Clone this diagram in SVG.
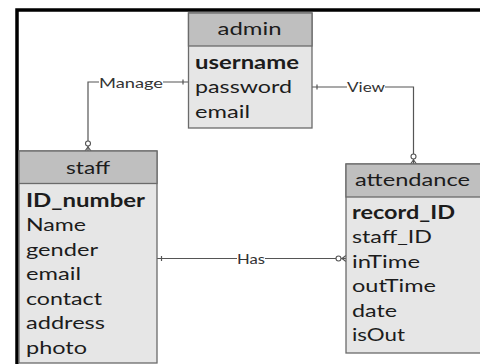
<svg xmlns="http://www.w3.org/2000/svg" width="480" height="364" viewBox="0 0 480 364">
<style>
.hdr{fill:#bfbfbf;stroke:#6b6b6b;stroke-width:1.3}
.body{fill:#e6e6e6;stroke:#6b6b6b;stroke-width:1.3}
.t{font-family:Lato,"Liberation Sans",sans-serif;font-size:18px;fill:#1c1c1c}
.h{text-anchor:middle}
.k{font-weight:bold}
.lbl{font-family:Lato,"Liberation Sans",sans-serif;font-size:13.5px;fill:#333;text-anchor:middle}
.ln{fill:none;stroke:#555;stroke-width:1.2}
.ring{fill:#fff;stroke:#555;stroke-width:1.1}
</style>
<rect width="480" height="364" fill="#fff"/>
<path d="M17,364 V10 H480" fill="none" stroke="#000" stroke-width="3.5"/>

<g id="connectors">
  <path class="ln" d="M188.5,82 H88 V151"/>
  <path class="ln" d="M183,79.5 V84.5"/>
  <rect x="99" y="75" width="64" height="15" fill="#fff"/>
  <text class="lbl" x="131" y="87.5" textLength="64" lengthAdjust="spacingAndGlyphs">Manage</text>
  <circle class="ring" cx="88" cy="143.5" r="2.5"/>
  <path class="ln" d="M85,151 L88,147 L91,151"/>

  <path class="ln" d="M312,87 H413.5 V164"/>
  <path class="ln" d="M317,84.5 V89.5"/>
  <rect x="347" y="80" width="38" height="15" fill="#fff"/>
  <text class="lbl" x="366" y="91.5" textLength="38" lengthAdjust="spacingAndGlyphs">View</text>
  <circle class="ring" cx="413.5" cy="156.5" r="2.5"/>
  <path class="ln" d="M410.5,164 L413.5,160 L416.5,164"/>

  <path class="ln" d="M157,258.5 H346"/>
  <path class="ln" d="M161.5,256 V261"/>
  <rect x="237" y="251" width="28" height="15" fill="#fff"/>
  <text class="lbl" x="251" y="263.5" textLength="28" lengthAdjust="spacingAndGlyphs">Has</text>
  <circle class="ring" cx="338.5" cy="258.5" r="2.5"/>
  <path class="ln" d="M346,255.5 L342,258.5 L346,261.5"/>
</g>

<g id="admin">
  <rect class="body" x="188.5" y="13" width="123.5" height="115"/>
  <rect class="hdr" x="188.5" y="13" width="123.5" height="33"/>
  <text class="t h" x="249.5" y="35" textLength="64" lengthAdjust="spacingAndGlyphs">admin</text>
  <text class="t k" x="195" y="68.5" textLength="104" lengthAdjust="spacingAndGlyphs">username</text>
  <text class="t" x="195" y="93" textLength="97" lengthAdjust="spacingAndGlyphs">password</text>
  <text class="t" x="195" y="117.5" textLength="55" lengthAdjust="spacingAndGlyphs">email</text>
</g>

<g id="staff">
  <rect class="body" x="19" y="151" width="138" height="212"/>
  <rect class="hdr" x="19" y="151" width="138" height="32.5"/>
  <text class="t h" x="88" y="173.5" textLength="44" lengthAdjust="spacingAndGlyphs">staff</text>
  <text class="t k" x="26" y="206.5" textLength="119" lengthAdjust="spacingAndGlyphs">ID_number</text>
  <text class="t" x="26" y="231" textLength="60" lengthAdjust="spacingAndGlyphs">Name</text>
  <text class="t" x="26" y="255.5" textLength="72" lengthAdjust="spacingAndGlyphs">gender</text>
  <text class="t" x="26" y="280" textLength="55" lengthAdjust="spacingAndGlyphs">email</text>
  <text class="t" x="26" y="304.5" textLength="76" lengthAdjust="spacingAndGlyphs">contact</text>
  <text class="t" x="26" y="329" textLength="79" lengthAdjust="spacingAndGlyphs">address</text>
  <text class="t" x="26" y="353.5" textLength="61" lengthAdjust="spacingAndGlyphs">photo</text>
</g>

<g id="attendance">
  <rect class="body" x="346" y="164" width="136" height="189"/>
  <rect class="hdr" x="346" y="164" width="136" height="33"/>
  <text class="t h" x="412.5" y="185.5" textLength="115" lengthAdjust="spacingAndGlyphs">attendance</text>
  <text class="t k" x="352" y="218.5" textLength="103" lengthAdjust="spacingAndGlyphs">record_ID</text>
  <text class="t" x="352" y="243" textLength="80" lengthAdjust="spacingAndGlyphs">staff_ID</text>
  <text class="t" x="352" y="267.5" textLength="68" lengthAdjust="spacingAndGlyphs">inTime</text>
  <text class="t" x="352" y="292" textLength="84" lengthAdjust="spacingAndGlyphs">outTime</text>
  <text class="t" x="352" y="316.5" textLength="45" lengthAdjust="spacingAndGlyphs">date</text>
  <text class="t" x="352" y="341" textLength="53" lengthAdjust="spacingAndGlyphs">isOut</text>
</g>
</svg>
